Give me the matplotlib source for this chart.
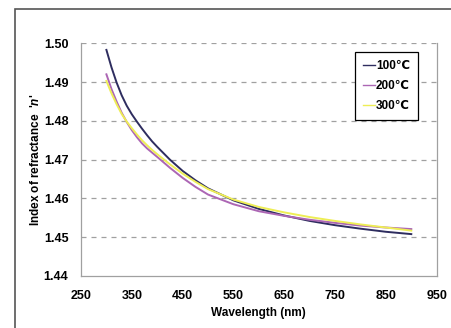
import matplotlib
matplotlib.use('Agg')
import matplotlib.pyplot as plt
from matplotlib.patches import Rectangle

plt.rcParams['font.family'] = ['Liberation Sans', 'DejaVu Sans']
plt.rcParams['mathtext.fontset'] = 'custom'
plt.rcParams['mathtext.it'] = 'Liberation Sans:italic:bold'

# wavelengths (nm) and refractive index
wavelength = [300, 310, 320, 330, 340, 350, 360, 370, 380, 390, 400,
              425, 450, 475, 500, 550, 600, 650, 700, 750, 800, 850, 900]
n_100 = [1.4983, 1.4938, 1.4899, 1.4866, 1.4839, 1.4817, 1.4798, 1.4780, 1.4763, 1.4747, 1.4733,
         1.4700, 1.4671, 1.4647, 1.4626, 1.4595, 1.4573, 1.4556, 1.4542, 1.4531, 1.4522, 1.4514, 1.4508]
n_200 = [1.4920, 1.4882, 1.4850, 1.4821, 1.4797, 1.4776, 1.4758, 1.4742, 1.4729, 1.4718, 1.4707,
         1.4679, 1.4653, 1.4630, 1.4610, 1.4585, 1.4567, 1.4555, 1.4545, 1.4537, 1.4530, 1.4525, 1.4521]
n_300 = [1.4903, 1.4871, 1.4843, 1.4818, 1.4798, 1.4781, 1.4765, 1.4750, 1.4737, 1.4725, 1.4714,
         1.4688, 1.4664, 1.4643, 1.4624, 1.4597, 1.4578, 1.4564, 1.4552, 1.4542, 1.4533, 1.4525, 1.4517]

labels = ['100\u2103', '200\u2103', '300\u2103']
colors = ['#2e2d5f', '#ac66b4', '#eeee55']
xticks = [250, 350, 450, 550, 650, 750, 850, 950]
yticks = [1.44, 1.45, 1.46, 1.47, 1.48, 1.49, 1.50]

fig = plt.figure(figsize=(4.51, 3.28), dpi=100)
fig.patches.append(Rectangle((15 / 451, -0.2), 1.2, 1.2 + (328 - 9) / 328 - 1,
                             transform=fig.transFigure, fill=False,
                             edgecolor='#555555', linewidth=1.2))
ax = fig.add_axes([81 / 451, 52 / 328, 355.7 / 451, 232.7 / 328])

for y in yticks[1:]:
    ax.axhline(y, color='#a0a0a0', linestyle=(0, (4, 4)), linewidth=0.9, zorder=1)

for n, lab, c in zip([n_100, n_200, n_300], labels, colors):
    ax.plot(wavelength, n, color=c, linewidth=1.4, label=lab, zorder=3)

ax.set_xlim(250, 950)
ax.set_ylim(1.44, 1.50)
ax.set_xticks(xticks)
ax.set_yticks(yticks)
ax.set_yticklabels([f'{v:.2f}' for v in yticks])
ax.tick_params(axis='y', length=0, labelsize=9, pad=9)
ax.tick_params(axis='x', length=0, labelsize=9, pad=10)
for t in ax.get_xticklabels() + ax.get_yticklabels():
    t.set_fontweight('bold')

for s in ['left', 'bottom', 'right']:
    ax.spines[s].set_color('#a0a0a0')
    ax.spines[s].set_linewidth(0.9)
ax.spines['top'].set_visible(False)

ax.set_xlabel('Wavelength (nm)', fontsize=8.5, fontweight='bold', labelpad=4)
ax.set_ylabel("Index of refractance  '$\\mathit{n}$'", fontsize=8.5,
              fontweight='bold', labelpad=1)

leg = ax.legend(loc='upper right', bbox_to_anchor=(0.947, 0.962), fontsize=8.5,
                handlelength=1.0, handletextpad=0.1, borderpad=0.65,
                labelspacing=0.7, fancybox=False, framealpha=1, borderaxespad=0)
leg.get_frame().set_edgecolor('black')
leg.get_frame().set_linewidth(0.9)
for t in leg.get_texts():
    t.set_fontweight('bold')
for l in leg.get_lines():
    l.set_linewidth(1.0)

fig.savefig('out.png', dpi=100)
